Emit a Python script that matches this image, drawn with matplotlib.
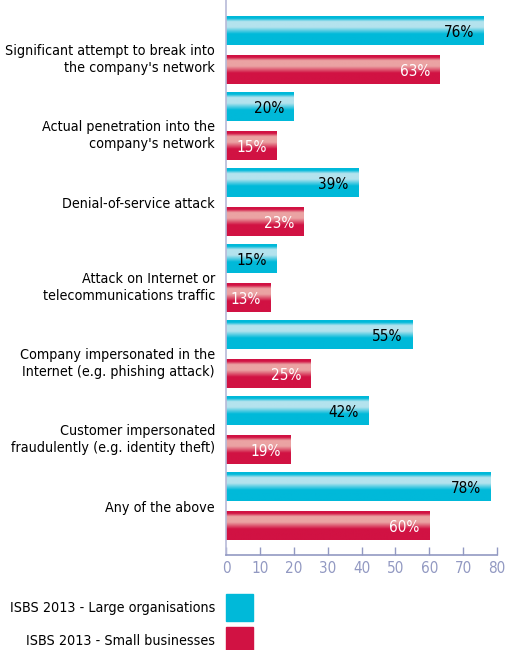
import matplotlib.pyplot as plt
import numpy as np
from matplotlib.colors import LinearSegmentedColormap, to_rgb
from matplotlib.patches import Rectangle
from matplotlib.transforms import ScaledTranslation

plt.rcParams['font.family'] = ['DejaVu Sans']
plt.rcParams['font.stretch'] = 'condensed'

# Data
categories = [
    "Significant attempt to break into\nthe company's network",
    "Actual penetration into the\ncompany's network",
    "Denial-of-service attack",
    "Attack on Internet or\ntelecommunications traffic",
    "Company impersonated in the\nInternet (e.g. phishing attack)",
    "Customer impersonated\nfraudulently (e.g. identity theft)",
    "Any of the above",
]
large_orgs = [76, 20, 39, 15, 55, 42, 78]
small_biz = [63, 15, 23, 13, 25, 19, 60]
series_names = ["ISBS 2013 - Large organisations", "ISBS 2013 - Small businesses"]

cyan = '#00b9d9'
red = '#d11243'
cyan_light = '#b4e3ee'
red_light = '#eba3a3'
axis_col = '#9299c2'


def bar_cmap(base, light):
    b = to_rgb(base)
    l = to_rgb(light)
    return LinearSegmentedColormap.from_list('g', [
        (0.0, b), (0.07, b), (0.18, l), (0.38, l), (0.62, b), (1.0, b)])


fig = plt.figure(figsize=(5.06, 6.5), dpi=100)
ax = fig.add_axes([226 / 506, 1 - 555 / 650, 271 / 506, 555 / 650])

y = np.arange(len(categories))
off = 0.257
h = 0.37
grad = np.linspace(0, 1, 64).reshape(-1, 1)

for vals, pos, base, light, tcol in [
        (large_orgs, y - off, cyan, cyan_light, 'black'),
        (small_biz, y + off, red, red_light, 'white')]:
    cmap = bar_cmap(base, light)
    for v, p in zip(vals, pos):
        ax.imshow(grad, cmap=cmap, aspect='auto', interpolation='bilinear',
                  extent=[0, v, p + h / 2, p - h / 2], zorder=2)
        ax.text(v - 2.8, p + 0.02, f'{v}%', ha='right', va='center',
                color=tcol, fontsize=11, zorder=3)

ax.set_xlim(0, 80)
ax.set_ylim(6.64, -0.665)
ax.set_yticks(y)
ax.set_yticklabels(categories, fontsize=10.3, ha='right', linespacing=1.3)
ax.tick_params(axis='y', length=0, pad=8)
# two-line labels sit a little below the group centre
for lab in ax.get_yticklabels():
    if '\n' in lab.get_text():
        lab.set_transform(lab.get_transform() + ScaledTranslation(0, -0.06, fig.dpi_scale_trans))
ax.set_xticks(range(0, 81, 10))
ax.tick_params(axis='x', direction='in', length=6, color=axis_col,
               labelcolor=axis_col, labelsize=11, pad=4, width=1)

for s in ['top', 'right']:
    ax.spines[s].set_visible(False)
ax.spines['left'].set_color('#b8bad8')
ax.spines['bottom'].set_color(axis_col)
ax.spines['left'].set_linewidth(1.2)
ax.spines['bottom'].set_linewidth(1.2)

# Legend
for i, (name, col) in enumerate(zip(series_names, [cyan, red])):
    ytop = 594 + i * 33
    fig.patches.append(Rectangle((226 / 506, 1 - (ytop + 27) / 650), 27 / 506, 27 / 650,
                                 transform=fig.transFigure, color=col))
    fig.text(215 / 506, 1 - (ytop + 14) / 650, name, ha='right', va='center', fontsize=10.3)

fig.savefig('out.png', dpi=100)
